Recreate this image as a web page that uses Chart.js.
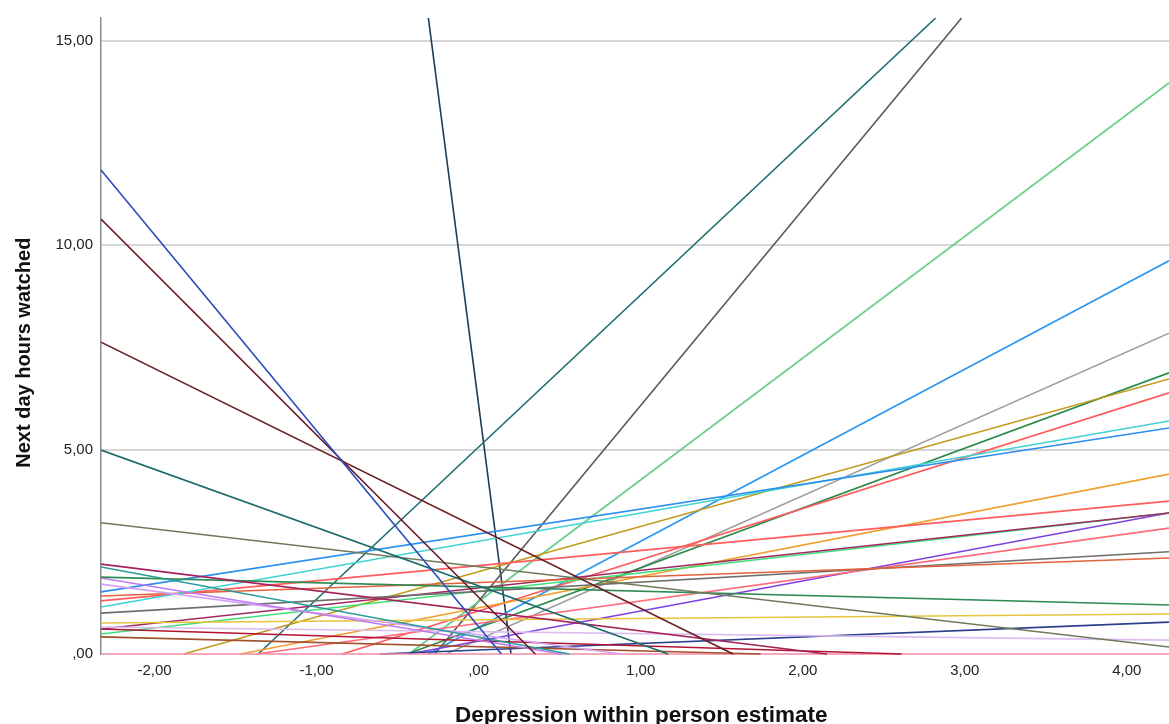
<!DOCTYPE html>
<html>
<head>
<meta charset="utf-8">
<script src="https://cdn.jsdelivr.net/npm/chart.js@4.4.1/dist/chart.umd.min.js"></script>
<style>
  html, body { margin: 0; padding: 0; background: #ffffff; }
  canvas { display: block; }
</style>
</head>
<body>
<canvas id="c" width="1169" height="724"></canvas>
<script>
// ---- Data ----
// Each person's fitted line is given by the two visible end points (x1,y1) -> (x2,y2)
const persons = ['P01','P02','P03','P04','P05','P06','P07','P08','P09','P10',
                 'P11','P12','P13','P14','P15','P16','P17','P18','P19','P20',
                 'P21','P22','P23','P24','P25','P26','P27','P28','P29','P30',
                 'P31','P32','P33','P34','P35'];
const x1 = [-2.33,-2.33,-2.33,-2.33,-2.33,-2.33,-2.33,-2.33,-2.33,-2.33,
            -2.33,-2.33,-2.33,-2.33,-2.33,-2.33,-2.33,-2.33,-2.33,-2.33,
            -2.33,-2.33,-1.82,-1.47,-1.37,-1.36,-0.84,-0.61,-0.44,-0.43,
            -0.43,-0.31,-0.27,-0.20,-0.31];
const y1 = [11.84,10.64,7.63,4.99,3.21,2.20,2.13,1.88,1.86,1.71,
            1.52,1.15,1.30,1.42,1.00,0.76,0.66,0.61,0.61,0.49,
            0.42,0.00,0.00,0.00,0.00,0.00,0.00,0.00,0.00,0.00,
            0.00,0.00,0.00,0.00,15.56];
const x2 = [0.14,0.35,1.57,1.17,4.26,2.15,0.56,4.26,0.51,0.88,
            4.26,4.26,4.26,4.26,4.26,4.26,4.26,4.26,2.61,4.26,
            1.74,4.26,4.26,4.26,4.26,2.82,4.26,4.26,4.26,4.26,
            4.26,4.26,2.98,4.26,0.20];
const y2 = [0.00,0.00,0.00,0.00,0.17,0.00,0.00,1.20,0.00,0.00,
            5.53,5.70,3.74,2.35,2.50,0.98,0.34,3.45,0.00,3.45,
            0.00,0.00,6.73,4.40,3.08,15.56,6.39,0.78,6.88,13.97,
            3.45,9.62,15.56,7.85,0.00];
const xTicks = [-2,-1,0,1,2,3,4];
const yTicks = [0,5,10,15];
const xRange = [-2.33, 4.26];
const yRange = [0, 15.56];

// ---- Styles ----
const palette = ['#2a4cbc','#6b1c24','#6a2020','#1b6b6b','#707a5a','#a3225a','#2a9d9a','#2e8b57','#bf7af0','#d6a0f5',
                 '#2b8ff0','#3fd3d3','#ff5c5c','#e2623a','#6f6f6f','#e6c43c','#dbbdf0','#a02860','#b41232','#3fe07a',
                 '#a0522d','#f38aa6','#c39a1d','#f0a030','#ff6b78','#1d6e70','#ff5a5a','#2b3f8e','#2a8a4a','#66cc88',
                 '#7f3fe0','#2a96f0','#595959','#9e9e9e','#1d3b58'];
const FONT = '"Liberation Sans", Arial, sans-serif';
const fmt = v => (v === 0 ? ',00' : v.toFixed(2).replace('.', ','));
const NB = '\u00a0';

const datasets = persons.map((name, i) => ({
  label: name,
  data: [{x: x1[i], y: y1[i]}, {x: x2[i], y: y2[i]}],
  borderColor: palette[i],
  backgroundColor: palette[i],
  borderWidth: 1.6,
  pointRadius: 0,
  fill: false,
  tension: 0,
  clip: { left: 0, top: 0, right: 0, bottom: 1.5 }
}));

new Chart(document.getElementById('c'), {
  type: 'line',
  data: { datasets },
  options: {
    responsive: false,
    animation: false,
    events: [],
    layout: { padding: { top: 18, left: 0, right: 0, bottom: 0 } },
    plugins: { legend: { display: false }, tooltip: { enabled: false } },
    scales: {
      x: {
        type: 'linear',
        min: xRange[0], max: xRange[1],
        afterBuildTicks: s => { s.ticks = xTicks.map(v => ({ value: v })); },
        afterFit: s => { s.height = 70; },
        grid: { display: false, drawTicks: false },
        border: { display: false },
        ticks: { padding: 8, color: '#222', font: { family: FONT, size: 15 }, callback: v => fmt(v), maxRotation: 0, autoSkip: false },
        title: { display: true, text: NB + NB + 'Depression within person estimate', color: '#111',
                 font: { family: FONT, size: 22.5, weight: 'bold', lineHeight: 1 }, padding: { top: 0, bottom: -3 } }
      },
      y: {
        type: 'linear',
        min: yRange[0], max: yRange[1],
        afterBuildTicks: s => { s.ticks = yTicks.map(v => ({ value: v })); },
        afterFit: s => { s.width = 101; },
        grid: { color: ctx => (ctx.tick && ctx.tick.value === 0 ? 'rgba(0,0,0,0)' : '#d6d6d6'), lineWidth: 2, drawTicks: false },
        border: { display: true, color: '#8c8c8c', width: 1.5 },
        ticks: { padding: 8, color: '#222', font: { family: FONT, size: 15 }, callback: v => fmt(v) },
        title: { display: true, text: 'Next day hours watched' + NB.repeat(6), color: '#111',
                 font: { family: FONT, size: 20, weight: 'bold', lineHeight: 1 }, padding: { top: 14, bottom: 0 } }
      }
    }
  }
});
</script>
</body>
</html>
